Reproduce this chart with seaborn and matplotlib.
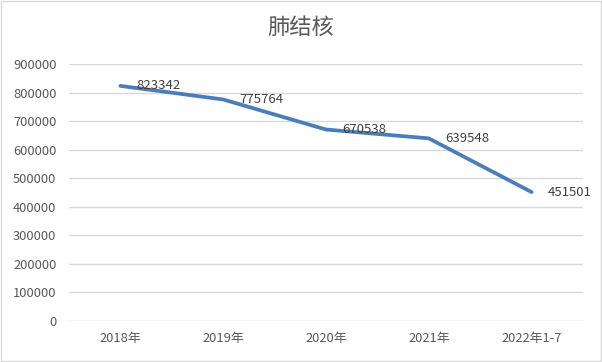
import matplotlib
matplotlib.use("Agg")
import matplotlib.pyplot as plt
import seaborn as sns
import pandas as pd
from matplotlib.patches import Rectangle

years = ["2018年", "2019年", "2020年", "2021年", "2022年1-7"]
cases = [823342, 775764, 670538, 639548, 451501]
yticks = list(range(0, 900001, 100000))

sns.set_style("white")
plt.rcParams['font.family'] = ['Noto Sans CJK SC', 'DejaVu Sans']

df = pd.DataFrame({"year": years, "cases": cases})

fig = plt.figure(figsize=(6.02, 3.62), dpi=100)
ax = fig.add_axes([69/602, 1-321/362, (583-69)/602, (321-64)/362])

sns.lineplot(data=df, x="year", y="cases", ax=ax, color="#4a7ebb", linewidth=2.7,
             sort=False)

for i, v in enumerate(cases):
    ax.annotate(str(v), (i, v), xytext=(16, 0), textcoords="offset pixels",
                ha="left", va="center", fontsize=9.5, color="#404040",
                annotation_clip=False)

ax.set_xlim(-0.5, len(years) - 0.5)
ax.set_ylim(0, 900000)
ax.set_yticks(yticks)
ax.set_yticklabels([str(t) for t in yticks])
ax.yaxis.grid(True, color="#d9d9d9", linewidth=1)
ax.set_axisbelow(True)
for s in ax.spines.values():
    s.set_visible(False)
ax.tick_params(axis="both", length=0, labelsize=9.3, colors="#595959")
ax.tick_params(axis="y", pad=9)
ax.tick_params(axis="x", pad=8)
ax.set_xlabel("")
ax.set_ylabel("")

fig.text(0.5, 1-27/362, "肺结核", ha="center", va="center", fontsize=16,
         color="#595959")

fig.patches.append(Rectangle((0.001, 0.002), 0.997, 0.995, transform=fig.transFigure,
                             fill=False, edgecolor="#d9d9d9", linewidth=1))

fig.savefig("out.png", dpi=100)
